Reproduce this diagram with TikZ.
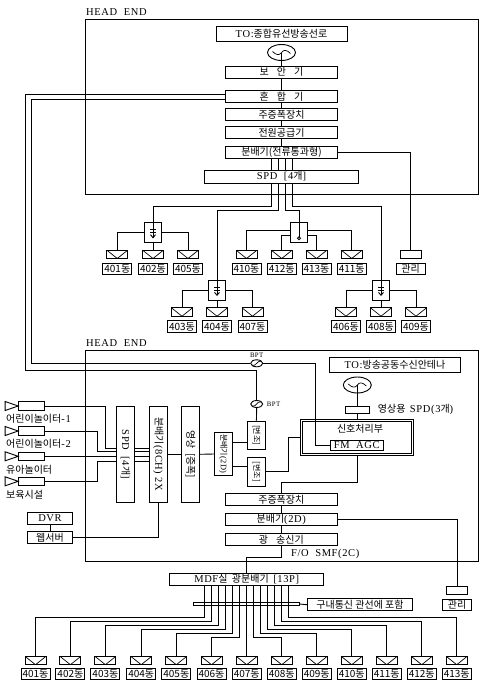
\documentclass[tikz,border=0pt]{standalone}
\usepackage{fontspec}
\usepackage{graphicx}
\usepackage{tikz}
\usetikzlibrary{positioning,shapes.geometric}
\setmainfont{Noto Sans CJK KR}
\newfontfamily\lat[Scale=1.05,LetterSpace=6]{Liberation Serif}

\begin{document}
\begin{tikzpicture}[x=1pt, y=-1pt, font=\fontsize{10}{11}\selectfont,
  wire/.style={line width=0.9pt, black},
  bar/.style={draw, line width=0.9pt, inner sep=0pt, minimum width=112pt, minimum height=12.2pt, align=center},
  frame/.style={draw, line width=0.9pt, inner sep=0pt, minimum width=392.5pt},
  note/.style={inner sep=0pt, anchor=west},
  block/.style={draw, line width=0.9pt, inner sep=0pt, minimum width=18.4pt},
  tag/.style={draw, line width=0.9pt, inner sep=0pt, minimum width=29pt, minimum height=11.5pt},
  sw/.style={draw, line width=0.9pt, inner sep=0pt, minimum width=17.5pt, minimum height=20pt},
  cam/.style={draw, line width=0.9pt, inner sep=0pt, minimum width=26pt, minimum height=8.6pt},
  plate/.style={draw, line width=0.9pt, inner sep=0pt, minimum width=21pt, minimum height=8.4pt},
  tap/.style={plate,
    path picture={\draw[line width=0.7pt] (path picture bounding box.north west) -- (path picture bounding box.south) -- (path picture bounding box.north east);}},
  aerial/.style={draw, ellipse, line width=0.9pt, inner sep=0pt, minimum width=28pt, minimum height=16pt,
    path picture={\draw[line width=0.7pt] ([shift={(-9pt,1pt)}]path picture bounding box.center) .. controls ([shift={(-5pt,-3pt)}]path picture bounding box.center) and ([shift={(-2pt,-3pt)}]path picture bounding box.center) .. (path picture bounding box.center) .. controls ([shift={(2pt,3pt)}]path picture bounding box.center) and ([shift={(5pt,3pt)}]path picture bounding box.center) .. ([shift={(9pt,-1pt)}]path picture bounding box.center);}},
  bpf/.style={aerial, minimum width=12pt, minimum height=7pt}]
\useasboundingbox (0,0) rectangle (483,688);

% upper head end
\node[note] (he1) at (86,12) {\lat HEAD\ \ END};
\node[frame, minimum height=174.5pt] (frame1) at (281.75,106.75) {};
\node[bar, minimum width=131pt, minimum height=15pt] (to1) at (281.5,34) {{\lat TO:}종합유선방송선로};
\node[aerial] (ant1) at (281.5,52.5) {};
\node[bar] (boan) at (281.5,72.2) {보\hspace{8pt}안\hspace{8pt}기};
\node[bar] (hon) at (281.5,96.5) {혼\hspace{8pt}합\hspace{8pt}기};
\node[bar] (amp1) at (281.5,114.5) {주증폭장치};
\node[bar] (pow) at (281.5,132.5) {전원공급기};
\node[bar] (bun1) at (281.5,152.5) {분배기(전류통과형)};
\node[bar, minimum width=154pt, minimum height=13pt] (spd1) at (281.5,176.5) {{\lat SPD\ \ [4}개{\lat ]}};

\draw[wire] (ant1.center) -- (boan.north);
\foreach \a/\b in {boan/hon,hon/amp1,amp1/pow,pow/bun1}{\draw[wire] (\a.south) -- (\b.north);}
\foreach \d in {-10.2,-3.2,3.8,10.8}{\draw[wire] ([xshift=\d pt]bun1.south) -- ([xshift=\d pt]spd1.north);}

% upper distribution
\node[sw] (sw1) at (153,232.7) {};
\node[sw] (sw2) at (299,232.8) {};
\node[sw] (sw3) at (217,290.3) {};
\node[sw] (sw4) at (381,290.3) {};
\foreach \n/\x/\y in {401/117.3/254.3, 402/153/254.3, 405/188/254.3,
  410/246.5/254.3, 412/281.7/254.3, 413/316.5/254.3, 411/351.7/254.3,
  403/182/312, 404/217/312, 407/252.5/312,
  406/346/312, 408/381/312, 409/416/312}{
  \node[tap] (t\n) at (\x,\y) {};
  \node[tag] (u\n) at (\x,\y+14.6) {\n{}동};
}
\node[plate] (mg1) at (410.5,254.3) {};
\node[tag] (mt1) at (410.5,268.9) {관리};

\draw[wire] ([xshift=-10.2pt]spd1.south) -- ++(0,23) -| (sw1.north);
\draw[wire] ([xshift=-3.2pt]spd1.south) -- ++(0,27) -| (sw3.north);
\draw[wire] ([xshift=3.8pt]spd1.south) -- ++(0,27) -| (sw2.north);
\draw[wire] ([xshift=10.8pt]spd1.south) -- ++(0,23) -| (sw4.north);
\draw[wire] (bun1.east) -| (mg1.north);
\foreach \s/\a/\b/\c in {sw1/t401/t402/t405, sw3/t403/t404/t407, sw4/t406/t408/t409}{
  \draw[wire] (\s.west) -| (\a.north);
  \draw[wire] (\s.south) -- (\b.north);
  \draw[wire] (\s.east) -| (\c.north);
  \draw[wire] (\s.north) -- ([yshift=-5pt]\s.center);
  \draw[wire] ([shift={(-3pt,3pt)}]\s.center) -- ([shift={(3pt,3pt)}]\s.center);
  \draw[wire] ([shift={(-3pt,0pt)}]\s.center) -- ([shift={(3pt,0pt)}]\s.center);
  \draw[wire] ([shift={(-2.5pt,-2pt)}]\s.center) -- ([yshift=-5pt]\s.center) -- ([shift={(2.5pt,-2pt)}]\s.center);
}
\draw[wire] ([yshift=2.5pt]sw2.west) -| (t410.north);
\draw[wire] ([yshift=-2.2pt]sw2.west) -| (t412.north);
\draw[wire] ([yshift=-2.2pt]sw2.east) -| (t413.north);
\draw[wire] ([yshift=2.5pt]sw2.east) -| (t411.north);
\draw[wire] (sw2.north) -- ([yshift=-4pt]sw2.center);
\draw[wire] ([yshift=-5.5pt]sw2.center) circle[radius=1.5pt];

% lower head end
\node[note] (he2) at (86,343) {\lat HEAD\ \ END};
\node[frame, minimum height=211.5pt] (frame2) at (281.75,455.75) {};
\node[bar, minimum width=131.4pt, minimum height=14.3pt] (to2) at (395,364.8) {{\lat TO:}방송공동수신안테나};
\node[aerial] (ant2) at (357.3,385) {};
\node[draw, line width=0.9pt, inner sep=0pt, minimum width=24.7pt, minimum height=7pt] (spd3) at (357.3,409.8) {};
\node[note] (spd3t) at (377.7,409) {영상용\ \ {\lat SPD(3}개{\lat )}};
\node[draw, line width=0.9pt, double, double distance=1.1pt, inner sep=0pt, minimum width=111pt, minimum height=34pt] (sig) at (357.3,437.5) {};
\node[inner sep=0pt] (sigt) at (360,429) {신호처리부};
\node[bar, minimum width=53pt, minimum height=10.7pt] (fm) at (356.8,445.3) {\lat FM\ \ AGC};
\node[bpf] (bpt1) at (256.7,363.3) {};
\node[inner sep=0pt, font=\lat\fontsize{6.5}{7}\selectfont] (bpt1t) at (256.7,355.5) {BPT};
\node[bpf] (bpt2) at (256.7,404) {};
\node[inner sep=0pt, font=\lat\fontsize{6.5}{7}\selectfont] (bpt2t) at (273.5,404) {BPT};
\coordinate (lo) at (25,370);
\coordinate (li) at (31.5,363.3);

\node[block, minimum height=96pt] (spd2) at (125.5,454.3) {\rotatebox{-90}{{\lat SPD\ \ [4}개{\lat ]}}};
\node[block, minimum height=96pt] (mux) at (158.5,454.3) {\rotatebox{-90}{분배기{\lat (8CH) 2X}}};
\node[block, minimum height=96pt] (vid) at (190.3,454.3) {\rotatebox{-90}{영상\ \ [증폭]}};
\node[block, minimum width=17.7pt, minimum height=42.6pt, font=\fontsize{8}{9}\selectfont] (dist) at (223.2,454) {\rotatebox{-90}{분배기{\lat (2D)}}};
\node[block, minimum height=28.4pt, font=\fontsize{8}{9}\selectfont] (mod1) at (256.4,435.2) {\rotatebox{-90}{[변조]}};
\node[block, minimum height=28.7pt, font=\fontsize{8}{9}\selectfont] (mod2) at (256.4,471.7) {\rotatebox{-90}{[변조]}};

\node[bar] (amp2) at (281.3,499.5) {주증폭장치};
\node[bar] (bun2) at (281.3,519.3) {분배기{\lat (2D)}};
\node[bar] (tx) at (281.3,539.5) {광\hspace{8pt}송신기};
\node[note] (fo) at (291,554) {\lat F/O\ \ SMF(2C)};
\node[plate] (mg2) at (457,590.2) {};
\node[tag] (mt2) at (457,604.7) {관리};

% cameras
\foreach \n/\y/\lab in {1/406/어린이놀이터{\lat -1}, 2/431/어린이놀이터{\lat -2}, 3/456.3/유아놀이터, 4/481.3/보육시설}{
  \node[cam] (cam\n) at (31.6,\y) {};
  \draw[wire] (cam\n.west) -- ++(-13,-4.5) -- ++(0,9) -- cycle;
  \node[note] (camt\n) at (6,\y+13) {\lab};
}
\node[bar, minimum width=45.4pt] (dvr) at (50,518.5) {\lat DVR};
\node[bar, minimum width=45.4pt] (web) at (50,537.5) {웹서버};

\draw[wire] (ant2.center) -- (spd3.north);
\draw[wire] (spd3.south) -- (sig.north);
\draw[wire] ([yshift=2pt]hon.west) -| (lo) -| (bpt2.north);
\draw[wire] ([yshift=-3pt]hon.west) -| (li) -- (bpt1.west);
\draw[wire] (bpt1.east) -- ++(52.3,0) |- (fm.west);
\draw[wire] (bpt2.south) -- (mod1.north);
\draw[wire] (cam1.east) -- ++(60,0) |- ([yshift=6.3pt]spd2.west);
\draw[wire] (cam2.east) -- ++(52.5,0) |- ([yshift=2.6pt]spd2.west);
\draw[wire] (cam3.east) -- ([yshift=-2pt]spd2.west);
\draw[wire] (cam4.east) -- ++(52.5,0) |- ([yshift=-7.4pt]spd2.west);
\foreach \d in {6.3,2.6,-2,-7.4}{\draw[wire] ([yshift=\d pt]spd2.east) -- ([yshift=\d pt]mux.west);}
\foreach \a/\b in {mux/vid,vid/dist}{\draw[wire] (\a.east) -- (\b.west);}
\draw[wire] ([yshift=11.7pt]dist.east) -- ([yshift=-7.1pt]mod1.west);
\draw[wire] ([yshift=-12.3pt]dist.east) -- ([yshift=5.4pt]mod2.west);
\draw[wire] (mod2.east) -- ++(22,0) |- (sig.west);
\draw[wire] (sig.south) -- ++(0,27.3) -| (amp2.north);
\foreach \a/\b in {amp2/bun2,bun2/tx}{\draw[wire] (\a.south) -- (\b.north);}
\draw[wire] (bun2.east) -| (mg2.north);
\draw[wire] (dvr.south) -- (web.north);
\draw[wire] (web.east) -| (mux.south);

% lower distribution
\node[bar, minimum width=154pt] (mdf) at (246.7,579.3) {{\lat MDF}실\ \ 광분배기\ \ {\lat [13P]}};
\node[bar, minimum width=105.4pt] (duct) at (360,604.7) {구내통신 관선에 포함};
\node[draw, line width=0.8pt, inner sep=0pt, minimum width=106pt, minimum height=2.8pt] (rail) at (246.2,604) {};
\draw[wire] (rail.east) -- (duct.west);
\draw[wire] (tx.south) -- ++(0,11.7) -| (mdf.north);
\foreach \n/\x/\s/\h in {401/35.5/-42/32, 402/70.4/-35/36, 403/105.4/-28/40, 404/141.2/-21/44,
  405/176.3/-14/48, 406/211.5/-7/52, 408/281.7/7/52, 409/316.7/14/48,
  410/351.7/21/44, 411/386.7/28/40, 412/421.7/35/36, 413/456.7/42/32}{
  \node[tap] (b\n) at (\x,660.5) {};
  \node[tag] (c\n) at (\x,674) {\n{}동};
  \draw[wire] ([xshift=\s pt]mdf.south) -- ++(0,\h) -| (b\n.north);
}
\node[tap] (b407) at (246.7,660.5) {};
\node[tag] (c407) at (246.7,674) {407동};
\draw[wire] (mdf.south) -- (b407.north);

\end{tikzpicture}
\end{document}
